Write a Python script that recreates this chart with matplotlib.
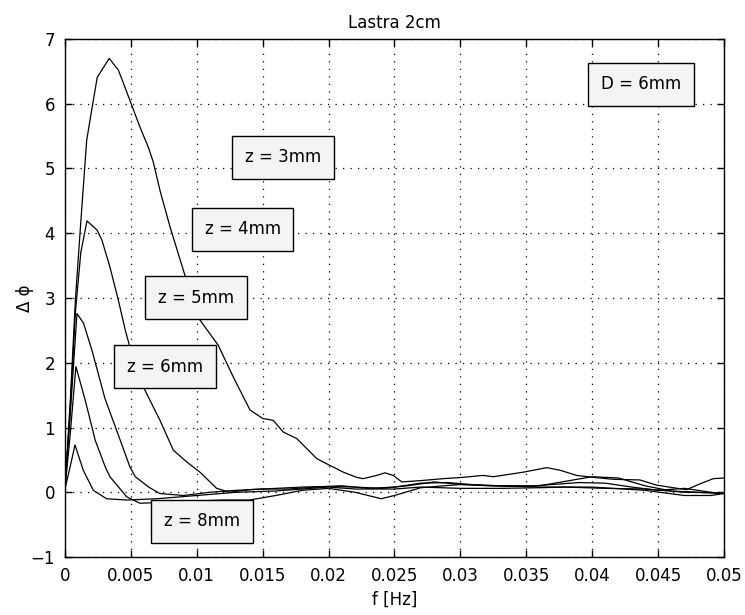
import numpy as np
import matplotlib.pyplot as plt

# phase difference spectra for a 2cm slab, D = 6mm, at several depths z
f_3mm = [0, 0.0004, 0.0008, 0.00121, 0.00165, 0.00215, 0.00245, 0.00336, 0.00405,
         0.00430, 0.00493, 0.00569, 0.00632, 0.00670, 0.00721, 0.00797, 0.0091,
         0.01024, 0.01163, 0.01277, 0.01404, 0.0150, 0.0158, 0.01656, 0.01758,
         0.0191, 0.01985, 0.02112, 0.02213, 0.02263, 0.02365, 0.02428, 0.02491,
         0.02555, 0.0270, 0.0287, 0.0302, 0.0317, 0.0325, 0.03477, 0.03655,
         0.03756, 0.03882, 0.04008, 0.0416, 0.04362, 0.04489, 0.04615, 0.04717,
         0.04818, 0.04919, 0.05]
dphi_3mm = [0.05, 1.4, 3.0, 4.2, 5.44, 6.05, 6.41, 6.70, 6.52,
            6.39, 6.05, 5.64, 5.33, 5.10, 4.66, 4.1, 3.35,
            2.66, 2.27, 1.78, 1.27, 1.14, 1.11, 0.93, 0.83,
            0.52, 0.44, 0.31, 0.23, 0.21, 0.26, 0.30, 0.26,
            0.16, 0.18, 0.21, 0.23, 0.26, 0.24, 0.31, 0.38,
            0.34, 0.26, 0.23, 0.20, 0.19, 0.11, 0.07, 0.04,
            0.13, 0.21, 0.22]

f_4mm = [0, 0.0004, 0.0008, 0.0012, 0.00167, 0.00243, 0.00281, 0.00341, 0.00407,
         0.00458, 0.00493, 0.00594, 0.00645, 0.00721, 0.00822, 0.00923, 0.01024,
         0.01151, 0.0125, 0.014, 0.016, 0.018, 0.020, 0.022, 0.024, 0.026, 0.028,
         0.030, 0.033, 0.036, 0.038, 0.040, 0.042, 0.044, 0.046, 0.048, 0.050]
dphi_4mm = [0.05, 1.3, 2.8, 3.7, 4.19, 4.05, 3.89, 3.48, 2.95,
            2.50, 2.24, 1.63, 1.42, 1.11, 0.65, 0.47, 0.31,
            0.06, 0.0, 0.04, 0.06, 0.08, 0.09, 0.08, 0.06, 0.10, 0.16,
            0.12, 0.10, 0.10, 0.17, 0.24, 0.22, 0.10, 0.02, 0.0, -0.02]

f_5mm = [0, 0.0004, 0.00091, 0.00141, 0.00205, 0.00303, 0.0042, 0.00493, 0.00534,
         0.00635, 0.0072, 0.009, 0.011, 0.013, 0.015, 0.017, 0.019, 0.021, 0.023,
         0.025, 0.027, 0.029, 0.032, 0.035, 0.037, 0.039, 0.041, 0.043, 0.045,
         0.047, 0.049, 0.05]
dphi_5mm = [0.05, 1.2, 2.76, 2.61, 2.19, 1.45, 0.80, 0.39, 0.24,
            0.08, -0.02, -0.05, 0.0, 0.03, 0.05, 0.05, 0.08, 0.10, 0.06,
            0.08, 0.14, 0.15, 0.10, 0.09, 0.12, 0.15, 0.14, 0.08, 0.03,
            0.06, 0.0, -0.02]

f_6mm = [0, 0.0004, 0.00083, 0.00154, 0.0023, 0.00306, 0.00341, 0.00407, 0.00468,
         0.00569, 0.008, 0.012, 0.014, 0.016, 0.018, 0.020, 0.022, 0.024, 0.025,
         0.027, 0.030, 0.033, 0.036, 0.040, 0.044, 0.047, 0.049, 0.05]
dphi_6mm = [0.05, 0.9, 1.94, 1.42, 0.80, 0.39, 0.24, 0.08, -0.07,
            -0.17, -0.15, -0.12, -0.12, -0.05, 0.03, 0.06, 0.0, -0.10, -0.05,
            0.07, 0.12, 0.10, 0.08, 0.08, 0.03, -0.05, -0.05, -0.02]

f_8mm = [0, 0.0004, 0.00076, 0.00139, 0.00215, 0.00316, 0.00468, 0.007, 0.010,
         0.013, 0.016, 0.018, 0.020, 0.022, 0.025, 0.027, 0.030, 0.033, 0.036,
         0.038, 0.041, 0.044, 0.047, 0.05]
dphi_8mm = [0.05, 0.4, 0.73, 0.34, 0.03, -0.10, -0.12, -0.10, -0.05,
            0.0, 0.02, 0.05, 0.08, 0.05, 0.05, 0.08, 0.06, 0.06, 0.07,
            0.08, 0.06, 0.05, 0.0, -0.01]

# curve labels and where they sit (data coords)
labels = ["z = 3mm", "z = 4mm", "z = 5mm", "z = 6mm", "z = 8mm", "D = 6mm"]
label_x = [0.01654, 0.0135, 0.00994, 0.00759, 0.0104, 0.0437]
label_y = [5.17, 4.06, 3.0, 1.94, -0.45, 6.30]

x_ticks = [0, 0.005, 0.01, 0.015, 0.02, 0.025, 0.03, 0.035, 0.04, 0.045, 0.05]
x_ticklabels = ["0", "0.005", "0.01", "0.015", "0.02", "0.025", "0.03", "0.035",
                "0.04", "0.045", "0.05"]
y_ticks = [-1, 0, 1, 2, 3, 4, 5, 6, 7]

plt.rcParams["font.family"] = ["DejaVu Sans"]
plt.rcParams["font.size"] = 12

fig = plt.figure(figsize=(7.45, 6.15), dpi=100)
ax = fig.add_axes([0.0872, 0.0943, 0.8846, 0.8423])

for fx, dy in [(f_3mm, dphi_3mm), (f_4mm, dphi_4mm), (f_5mm, dphi_5mm),
               (f_6mm, dphi_6mm), (f_8mm, dphi_8mm)]:
    ax.plot(fx, dy, color="black", linewidth=0.9)

for txt, lx, ly in zip(labels, label_x, label_y):
    ax.text(lx, ly, txt, ha="center", va="center", fontsize=12,
            bbox=dict(boxstyle="square,pad=0.75", facecolor="#f4f4f4",
                      edgecolor="black", linewidth=1.0))

ax.set_xlim(0, 0.05)
ax.set_ylim(-1, 7)
ax.set_xticks(x_ticks)
ax.set_xticklabels(x_ticklabels)
ax.set_yticks(y_ticks)
ax.tick_params(direction="in", top=True, right=True, length=5, width=1,
               pad=7, labelsize=12)
ax.grid(True, color="black", linestyle=(0, (1, 5)), linewidth=0.9)
for sp in ax.spines.values():
    sp.set_linewidth(1.0)

ax.set_title("Lastra 2cm", fontsize=12, pad=8)
ax.set_xlabel("f [Hz]", fontsize=12, labelpad=4)
ax.set_ylabel("Δ ϕ", fontsize=12, labelpad=-2.5)

fig.savefig("out.png", dpi=100)
